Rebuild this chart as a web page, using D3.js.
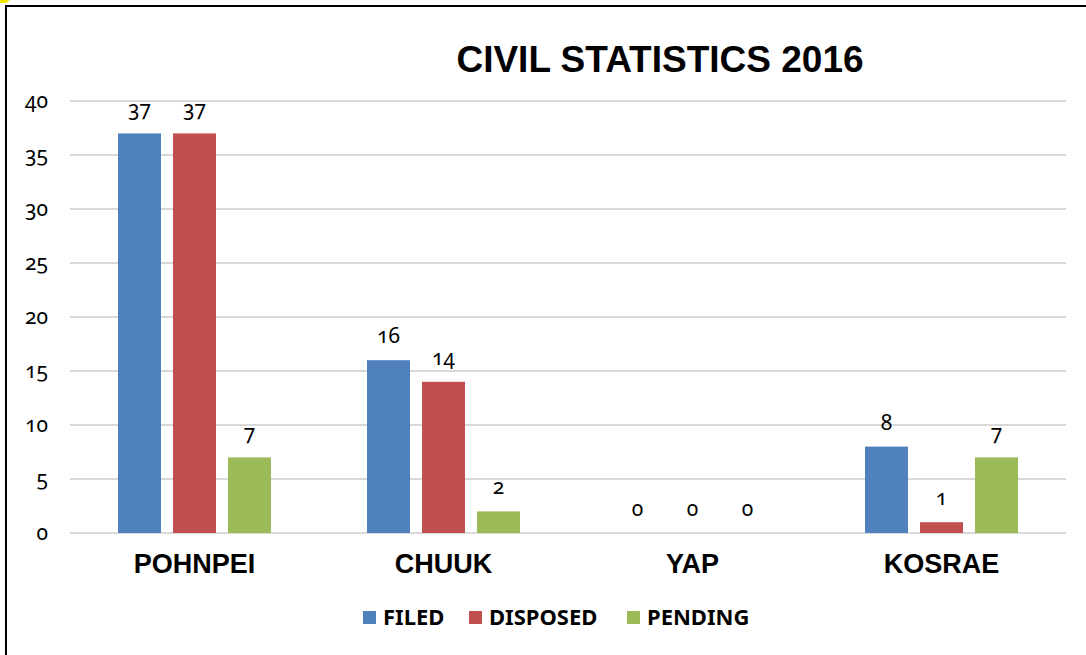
<!DOCTYPE html>
<html><head><meta charset="utf-8">
<script src="https://cdn.jsdelivr.net/npm/d3@7"></script>
<style>
body{margin:0;background:#fff;}
svg{display:block;}
.num{font-family:"Noto Sans",sans-serif;font-variant-numeric:oldstyle-nums;font-feature-settings:"onum" 1;}
</style></head>
<body><svg id="c" width="1086" height="655"></svg>
<script>
const categories = ["POHNPEI","CHUUK","YAP","KOSRAE"];
const seriesNames = ["FILED","DISPOSED","PENDING"];
const filed = [37,16,0,8];
const disposed = [37,14,0,1];
const pending = [7,2,0,7];
const yTicks = [0,5,10,15,20,25,30,35,40];
const colors = ["#4F81BD","#C0504D","#9BBB59"];
const title = "CIVIL STATISTICS 2016";

const series = [filed, disposed, pending];
const svg = d3.select("#c");

// frame
svg.append("path").attr("d","M6,655 L6,6 L1086,6").attr("fill","none").attr("stroke","#000").attr("stroke-width",2);
svg.append("path").attr("d","M0,0 L10,0 L6,3 L0,3 Z").attr("fill","#f2e600");

const x0 = d3.scaleBand().domain(categories).range([70,1066]);
const x1 = d3.scaleBand().domain(seriesNames).range([0,153]).paddingInner(12/55).paddingOuter(0);
const y = d3.scaleLinear().domain([0,40]).range([533,101]);

// grid
svg.append("g").selectAll("line").data(yTicks).join("line")
  .attr("x1",70).attr("x2",1066).attr("y1",d=>y(d)).attr("y2",d=>y(d))
  .attr("stroke","#D9D9D9").attr("stroke-width",2);

// y labels
svg.append("g").selectAll("text").data(yTicks).join("text")
  .attr("class","num").attr("x",48).attr("y",d=>y(d)+7)
  .attr("text-anchor","end").attr("font-size",21).attr("fill","#000").text(d=>d);

// bars
const groups = svg.append("g").selectAll("g").data(categories).join("g")
  .attr("transform",d=>`translate(${x0(d)+x0.bandwidth()/2-76.5},0)`);
groups.each(function(cat,ci){
  const g = d3.select(this);
  seriesNames.forEach((s,si)=>{
    const v = series[si][ci];
    if(v>0){
      g.append("rect").attr("x",x1(s)).attr("width",x1.bandwidth())
        .attr("y",y(v)).attr("height",y(0)-y(v)).attr("fill",colors[si]);
    }
    g.append("text").attr("class","num").attr("x",x1(s)+x1.bandwidth()/2)
      .attr("y",y(v)-17).attr("text-anchor","middle").attr("font-size",21).attr("fill","#000").text(v);
  });
});

// category labels
svg.append("g").selectAll("text").data(categories).join("text")
  .attr("x",d=>x0(d)+x0.bandwidth()/2).attr("y",573).attr("text-anchor","middle")
  .attr("font-family","Liberation Sans, Arial, sans-serif").attr("font-weight","bold")
  .attr("font-size",27).text(d=>d);

// title
svg.append("text").attr("x",660).attr("y",72).attr("text-anchor","middle")
  .attr("font-family","Liberation Sans, Arial, sans-serif").attr("font-weight","bold")
  .attr("font-size",37).text(title);

// legend
const legX = [363,469,627];
const leg = svg.append("g").selectAll("g").data(seriesNames).join("g")
  .attr("transform",(d,i)=>`translate(${legX[i]},0)`);
leg.append("rect").attr("x",0).attr("y",611).attr("width",13).attr("height",13).attr("fill",(d,i)=>colors[i]);
leg.append("text").attr("x",20).attr("y",625).attr("font-family","Noto Sans, sans-serif")
  .attr("font-weight","bold").attr("font-size",22).text(d=>d);
</script></body></html>
